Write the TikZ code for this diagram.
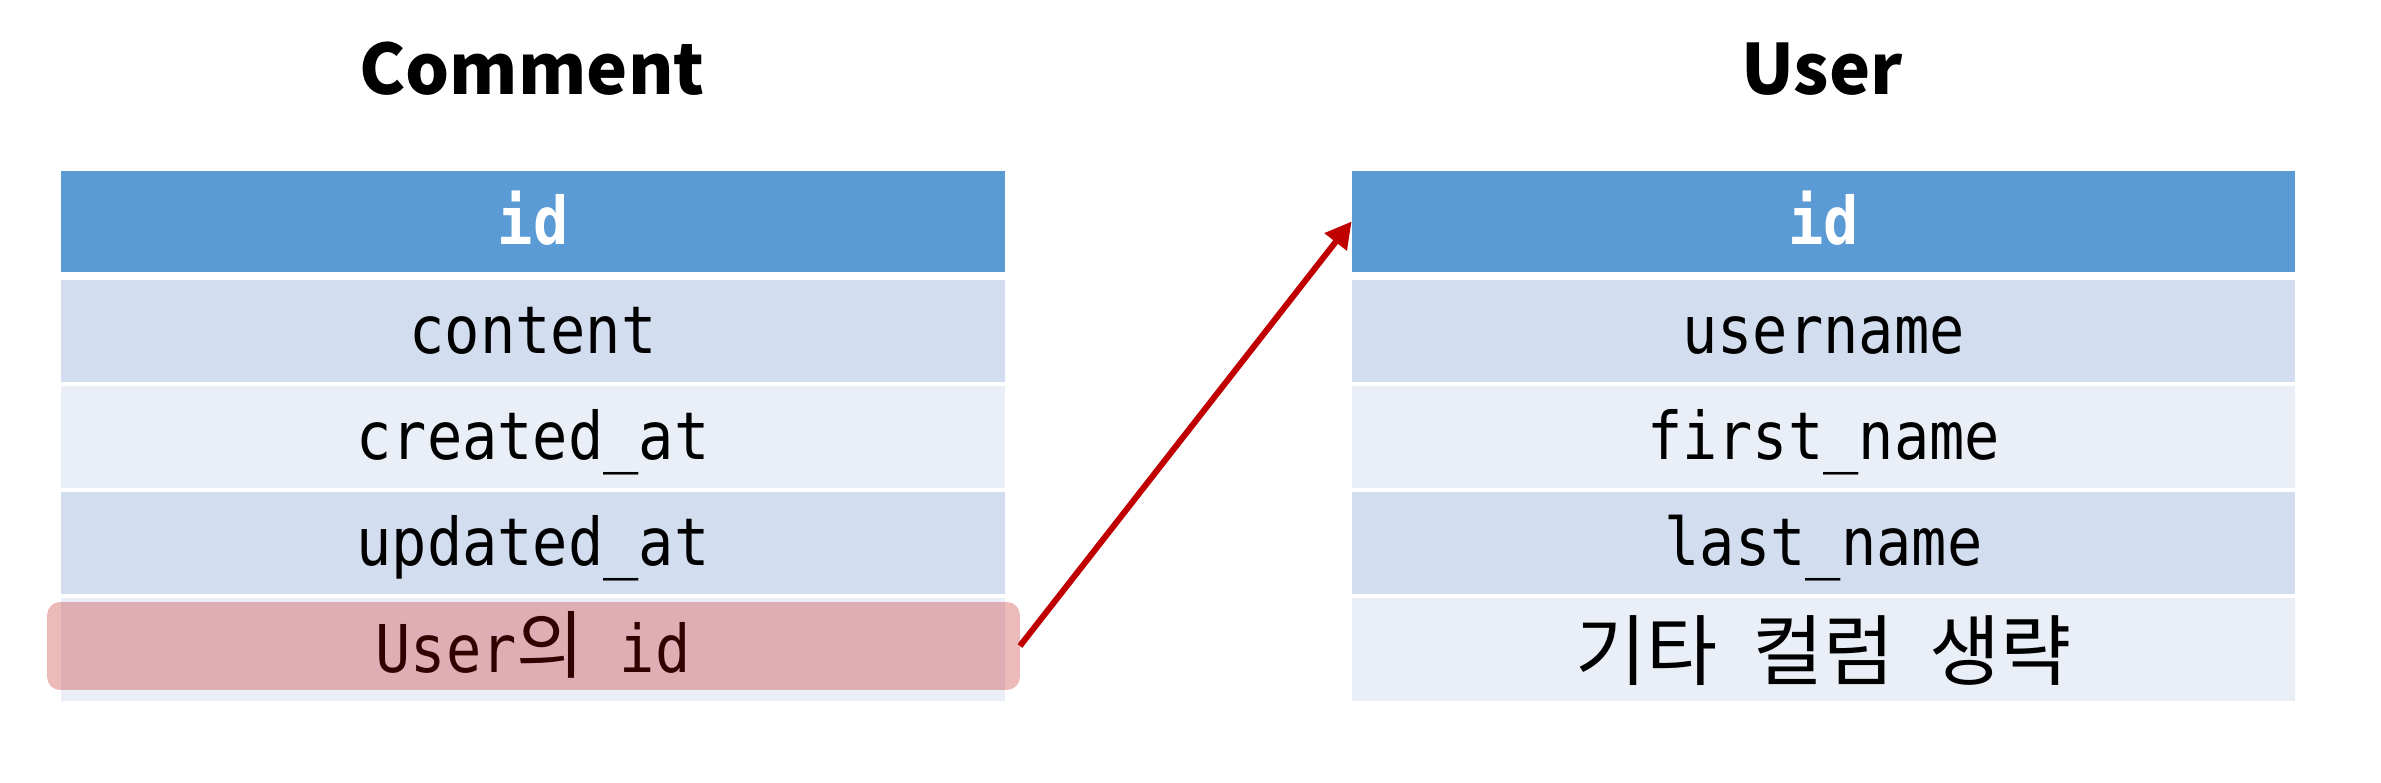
\documentclass[tikz,border=0pt]{standalone}
\usepackage{fontspec}
\usetikzlibrary{arrows.meta}
\newfontfamily\monof[FakeStretch=0.89]{DejaVu Sans Mono}
\newfontfamily\krf{Noto Sans CJK KR}
\newfontfamily\titlef{Noto Sans CJK KR}
\definecolor{hdr}{HTML}{5B9BD5}
\definecolor{rowa}{HTML}{D2DEEF}
\definecolor{rowb}{HTML}{EAEFF7}
\definecolor{arrowred}{HTML}{C00000}
\tikzset{
  cell/.style={minimum width=18.88cm, minimum height=2.04cm, inner sep=0pt, outer sep=0pt,
    text height=1.2cm, text depth=0.28cm, anchor=center,
    font=\monof\fontsize{37.5}{40}\selectfont, text=black},
  hdrcell/.style={cell, fill=hdr, minimum height=2.02cm, text=white, font=\monof\bfseries\fontsize{37.5}{40}\selectfont},
  darkcell/.style={cell, fill=rowa},
  lightcell/.style={cell, fill=rowb},
  tabtitle/.style={anchor=base, inner sep=0pt, font=\titlef\bfseries\fontsize{39.5}{42}\selectfont},
  hilite/.style={fill=arrowred, fill opacity=0.27, draw=none, rounded corners=0.26cm,
    minimum width=19.46cm, minimum height=1.76cm, inner sep=0pt, outer sep=0pt},
  fkarrow/.style={draw=arrowred, line width=0.12cm, -{Triangle[length=0.52cm,width=0.54cm]}}
}
\begin{document}
\begin{tikzpicture}[x=0.02cm,y=-0.02cm]
\useasboundingbox[fill=white] (0,0) rectangle (2381,783);
% titles
\node[tabtitle] (tc) at (532,95) {Comment};
\node[tabtitle] (tu) at (1822,95) {User};
% Comment table
\node[hdrcell] (cid) at (533,221.5) {id};
\node[darkcell] (ccontent) at (533,331) {content};
\node[lightcell] (ccreated) at (533,437) {created\_at};
\node[darkcell] (cupdated) at (533,543) {updated\_at};
\node[lightcell, minimum height=2.06cm] (cuser) at (533,649.5) {User{\krf\fontsize{42}{44}\selectfont 의} id};
% User table
\node[hdrcell] (uid) at (1823.5,221.5) {id};
\node[darkcell] (uname) at (1823.5,331) {username};
\node[lightcell] (ufirst) at (1823.5,437) {first\_name};
\node[darkcell] (ulast) at (1823.5,543) {last\_name};
\node[lightcell, minimum height=2.06cm] (uetc) at (1823.5,649.5) {\raisebox{-0.14cm}{\krf\fontsize{44}{46}\selectfont 기타\hspace{0.7cm}컬럼\hspace{0.7cm}생략}};
% highlight
\node[hilite] (hl) at (533.5,646) {};
% arrow
\draw[fkarrow] (hl.east) -- (uid.west);
\end{tikzpicture}
\end{document}
